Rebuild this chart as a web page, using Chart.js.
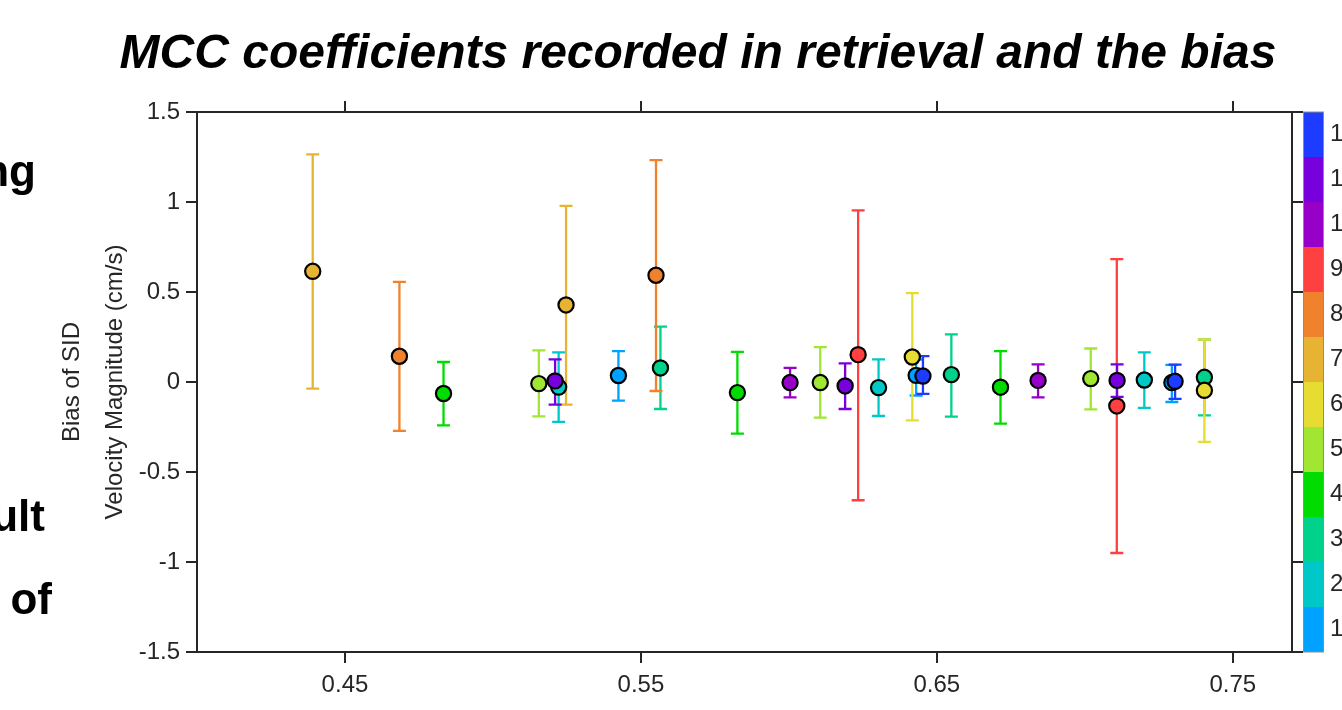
<!DOCTYPE html>
<html>
<head>
<meta charset="utf-8">
<script src="https://cdn.jsdelivr.net/npm/chart.js@4"></script>
<style>
  html, body { margin: 0; padding: 0; background: #fff; overflow: hidden; }
  #wrap { width: 1342px; height: 710px; position: relative; }
</style>
</head>
<body>
<div id="wrap"><canvas id="mcc"></canvas></div>
<script>
// groups shown on the colour bar (1 at the bottom .. 12 at the top)
var groupLabels = ['1','2','3','4','5','6','7','8','9','10','11','12'];
var groupColors = ['#00a2ff','#00c8c8','#00d28c','#00dc00','#a0e632','#e6dc32',
                   '#e6b432','#f0822d','#ff4040','#9600c8','#7800dc','#1e3cff'];

// one entry per point
var mccX    = [0.4391,0.4684,0.4833,0.5155,0.5222,0.5210,0.5247,0.5424,0.5551,0.5566,
               0.5826,0.6004,0.6106,0.6190,0.6234,0.6303,0.6417,0.6430,0.6453,0.6549,
               0.6715,0.6842,0.7020,0.7109,0.7108,0.7201,0.7294,0.7305,0.7404,0.7404];
var biasY   = [0.615,0.143,-0.064,-0.009,-0.028,0.006,0.428,0.036,0.593,0.078,
               -0.059,-0.003,-0.003,-0.022,0.152,-0.031,0.139,0.037,0.033,0.041,
               -0.029,0.009,0.019,0.009,-0.133,0.011,-0.003,0.004,0.026,-0.046];
var errTop  = [1.265,0.556,0.111,0.176,0.165,0.126,0.978,0.172,1.233,0.308,
               0.167,0.078,0.194,0.104,0.954,0.126,0.494,0.125,0.144,0.265,
               0.171,0.098,0.186,0.098,0.683,0.165,0.095,0.097,0.236,0.236];
var errBot  = [-0.037,-0.272,-0.241,-0.191,-0.222,-0.126,-0.126,-0.103,-0.050,-0.150,
               -0.287,-0.085,-0.198,-0.150,-0.657,-0.189,-0.213,-0.075,-0.066,-0.192,
               -0.231,-0.085,-0.152,-0.083,-0.950,-0.144,-0.111,-0.094,-0.185,-0.333];
var groupOf = [7,8,4,5,2,11,7,1,8,3,
               4,10,5,11,9,2,6,1,12,3,
               4,10,5,11,9,2,1,12,3,6];

var xTicks = [0.45, 0.55, 0.65, 0.75];
var xTickLabels = ['0.45','0.55','0.65','0.75'];
var yTicks = [-1.5,-1,-0.5,0,0.5,1,1.5];
var yTickLabels = ['-1.5','-1','-0.5','0','0.5','1','1.5'];

var titleText = 'MCC coefficients recorded in retrieval and the bias';
var yTitle = ['Bias of SID', 'Velocity Magnitude (cm/s)'];
var sideWords = ['ng', 'ult', 'of'];   // cut-off slide text on the left

var FONT = "'Liberation Sans', Arial, Helvetica, sans-serif";
var AX = '#262626';

// build one dataset per group, later groups drawn on top
var datasets = [];
for (var g = 1; g <= 12; g++) {
  var pts = [];
  for (var i = 0; i < mccX.length; i++) {
    if (groupOf[i] === g) pts.push({x: mccX[i], y: biasY[i], hi: errTop[i], lo: errBot[i]});
  }
  datasets.push({
    label: groupLabels[g-1],
    data: pts,
    order: 12 - g,
    backgroundColor: groupColors[g-1],
    borderColor: '#000',
    borderWidth: 2.2,
    pointRadius: 7.6,
    pointHoverRadius: 7.6
  });
}

function fixTicks(vals) {
  return function(scale) { scale.ticks = vals.map(function(v){ return {value: v}; }); };
}
function fixSize(w, h) {
  return function(scale) { if (w !== null) scale.width = w; if (h !== null) scale.height = h; };
}

// error bars first, under every marker
var errorBars = {
  id: 'errorBars',
  beforeDatasetsDraw: function(chart) {
    var ctx = chart.ctx, xs = chart.scales.x, ys = chart.scales.y;
    ctx.save();
    ctx.lineWidth = 2.3;
    for (var g = 1; g <= 12; g++) {
      ctx.strokeStyle = groupColors[g-1];
      for (var i = 0; i < mccX.length; i++) {
        if (groupOf[i] !== g) continue;
        var px = xs.getPixelForValue(mccX[i]);
        var pt = ys.getPixelForValue(errTop[i]);
        var pb = ys.getPixelForValue(errBot[i]);
        ctx.beginPath();
        ctx.moveTo(px, pt); ctx.lineTo(px, pb);
        ctx.moveTo(px - 6.5, pt); ctx.lineTo(px + 6.5, pt);
        ctx.moveTo(px - 6.5, pb); ctx.lineTo(px + 6.5, pb);
        ctx.stroke();
      }
    }
    ctx.restore();
  }
};

// title, colour bar and the cut slide text
var extras = {
  id: 'extras',
  afterDraw: function(chart) {
    var ctx = chart.ctx, area = chart.chartArea;
    ctx.save();
    ctx.fillStyle = '#000';
    ctx.font = 'italic bold 48px ' + FONT;
    ctx.textAlign = 'center';
    ctx.textBaseline = 'alphabetic';
    ctx.fillText(titleText, 698, 68);

    ctx.font = 'bold 44px ' + FONT;
    ctx.textAlign = 'right';
    ctx.fillText(sideWords[0], 36, 186);
    ctx.fillText(sideWords[1], 45, 531);
    ctx.fillText(sideWords[2], 52, 614);

    // colour bar
    var cbL = area.right + 11, cbW = 20;
    var segH = (area.bottom - area.top) / groupLabels.length;
    ctx.font = '24px ' + FONT;
    ctx.textAlign = 'left';
    ctx.textBaseline = 'middle';
    for (var k = 0; k < groupLabels.length; k++) {
      var yb = area.bottom - k * segH;
      ctx.fillStyle = groupColors[k];
      ctx.fillRect(cbL, yb - segH, cbW, segH);
      ctx.fillStyle = AX;
      ctx.fillText(groupLabels[k], cbL + cbW + 7, yb - segH / 2);
    }
    ctx.strokeStyle = '#8c8c8c';
    ctx.lineWidth = 1;
    ctx.strokeRect(cbL + 0.5, area.top, cbW, area.bottom - area.top);
    ctx.restore();
  }
};

var axisGrid = {drawOnChartArea: false, drawTicks: true, tickLength: 11, color: AX, lineWidth: 2};
var axisBorder = {display: true, color: AX, width: 2};

new Chart(document.getElementById('mcc'), {
  type: 'scatter',
  data: {datasets: datasets},
  options: {
    responsive: true,
    maintainAspectRatio: false,
    animation: false,
    layout: {padding: 0},
    plugins: {legend: {display: false}, tooltip: {enabled: false}, title: {display: false}},
    scales: {
      x: {
        type: 'linear', position: 'bottom', min: 0.40, max: 0.77,
        afterBuildTicks: fixTicks(xTicks), afterFit: fixSize(null, 58),
        grid: axisGrid, border: axisBorder,
        ticks: {color: AX, font: {family: FONT, size: 24}, padding: 8, maxRotation: 0,
                callback: function(v){ return xTickLabels[xTicks.indexOf(v)]; }}
      },
      x2: {
        type: 'linear', position: 'top', min: 0.40, max: 0.77,
        afterBuildTicks: fixTicks(xTicks), afterFit: fixSize(null, 112),
        grid: axisGrid, border: axisBorder, ticks: {display: false}
      },
      y: {
        type: 'linear', position: 'left', min: -1.5, max: 1.5,
        afterBuildTicks: fixTicks(yTicks), afterFit: fixSize(197, null),
        grid: axisGrid, border: axisBorder,
        ticks: {color: AX, font: {family: FONT, size: 24}, padding: 6,
                callback: function(v){ return yTickLabels[yTicks.indexOf(v)]; }},
        title: {display: true, text: yTitle, color: AX,
                font: {family: FONT, size: 24, lineHeight: 1.8}, padding: {top: 51, bottom: 0}}
      },
      y2: {
        type: 'linear', position: 'right', min: -1.5, max: 1.5,
        afterBuildTicks: fixTicks(yTicks), afterFit: fixSize(50, null),
        grid: axisGrid, border: axisBorder, ticks: {display: false}
      }
    }
  },
  plugins: [errorBars, extras]
});
</script>
</body>
</html>
